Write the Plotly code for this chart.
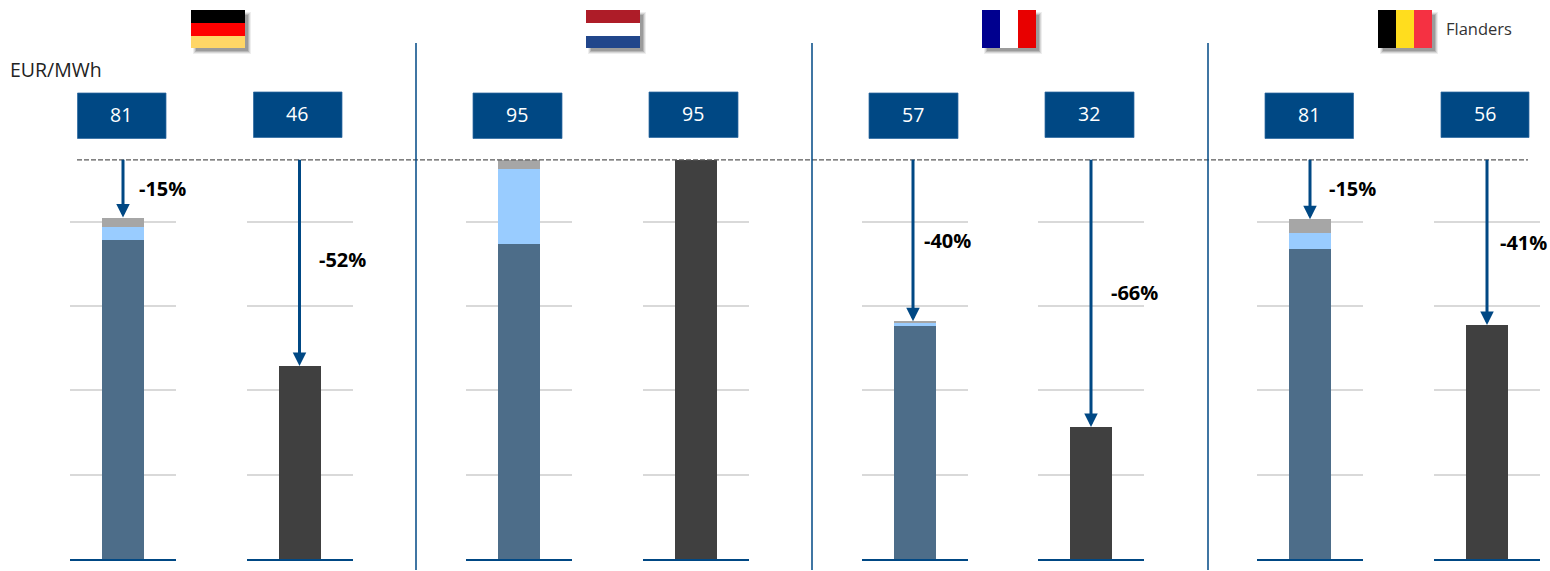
import plotly.graph_objects as go

W, H = 1550, 571

# ---- data ----
countries = ["Germany", "Netherlands", "France", "Flanders"]
box_labels = ["81", "46", "95", "95", "57", "32", "81", "56"]
pct_labels = ["-15%", "-52%", None, None, "-40%", "-66%", "-15%", "-41%"]
reference = [94.7] * 8
base_seg = [75.8, 0, 74.7, 0, 55.3, 0, 73.5, 0]
light_seg = [3.0, 0, 17.9, 0, 0.6, 0, 3.8, 0]
gray_seg = [2.2, 0, 2.1, 0, 0.5, 0, 3.3, 0]
dark_seg = [0, 45.8, 0, 94.7, 0, 31.3, 0, 55.5]
arrow_tips = [81.0, 45.8, None, None, 56.4, 31.3, 80.6, 55.5]

# ---- layout constants (pixels) ----
NAVY = "#004884"
panel_x = [(70, 176), (247, 353), (466, 572), (643, 749), (862, 968), (1038, 1144), (1257, 1363), (1434, 1540)]
box_x = [(77.5, 166), (253.5, 342), (473, 562), (649, 738), (869, 958), (1045, 1134), (1265, 1353.5), (1441, 1529)]
box_y = [(93, 138.5), (92, 137.5), (93, 138.5), (92, 137.5), (93, 138.5), (92, 137.5), (93, 138.5), (92, 137.5)]
arrow_px = [123, 299.5, None, None, 913, 1091, 1310, 1487]
pct_xy = [(162, 189), (342, 260), None, None, (948, 240), (1134, 292), (1352, 189), (1523, 242)]
Y_TOP, Y_BASE = 137.5, 559


def px(x):
    return x / W


def py(y):
    return 1 - y / H


fig = go.Figure()
shapes, annotations = [], []
layout = {}
for i in range(8):
    s = "" if i == 0 else str(i + 1)
    layout[f"xaxis{s}"] = dict(
        domain=[px(panel_x[i][0]), px(panel_x[i][1])], range=[-0.5, 0.5], anchor=f"y{s}",
        showticklabels=False, ticks="", showgrid=False, zeroline=False,
        showline=True, linecolor=NAVY, linewidth=1.6,
    )
    layout[f"yaxis{s}"] = dict(
        domain=[py(Y_BASE), py(Y_TOP)], range=[0, 100], dtick=20, anchor=f"x{s}",
        showticklabels=False, ticks="", showgrid=True, gridcolor="#D9D9D9", gridwidth=1.5,
        zeroline=False, showline=False,
    )
    for vals, col in [(base_seg, "#4D6D89"), (light_seg, "#99CCFF"), (gray_seg, "#A6A6A6"), (dark_seg, "#404040")]:
        if vals[i] > 0:
            fig.add_trace(go.Bar(x=[0], y=[vals[i]], xaxis=f"x{s}", yaxis=f"y{s}",
                                 marker=dict(color=col, line=dict(width=0)), showlegend=False))
    # value box
    shapes.append(dict(type="rect", xref="paper", yref="paper",
                       x0=px(box_x[i][0]), x1=px(box_x[i][1]), y0=py(box_y[i][1]), y1=py(box_y[i][0]),
                       fillcolor=NAVY, line=dict(color="#2E6AA0", width=0.75)))
    annotations.append(dict(xref="paper", yref="paper", x=px(sum(box_x[i]) / 2 - 0.5), y=py(sum(box_y[i]) / 2 - 1),
                            text=box_labels[i], showarrow=False, xanchor="center", yanchor="middle",
                            font=dict(family="Open Sans", size=19.5, color="white")))
    # reduction arrow + label
    if arrow_tips[i] is not None:
        xval = (arrow_px[i] - sum(panel_x[i]) / 2) / (panel_x[i][1] - panel_x[i][0])
        annotations.append(dict(xref=f"x{s}", yref=f"y{s}", axref=f"x{s}", ayref=f"y{s}",
                                x=xval, y=arrow_tips[i], ax=xval, ay=reference[i], text=" ",
                                font=dict(size=1), borderpad=0, borderwidth=0,
                                showarrow=True, arrowhead=2, arrowsize=0.9, arrowwidth=3,
                                arrowcolor=NAVY, standoff=0, startstandoff=0))
        annotations.append(dict(xref="paper", yref="paper", x=px(pct_xy[i][0]), y=py(pct_xy[i][1]),
                                text=f"<b>{pct_labels[i]}</b>", showarrow=False,
                                xanchor="center", yanchor="middle",
                                font=dict(family="Open Sans", size=20, color="black")))

# reference line
shapes.append(dict(type="line", xref="paper", yref="y", x0=px(77), x1=px(1528), y0=reference[0], y1=reference[0],
                   line=dict(color="#595959", width=1.3, dash="5px,2px")))
# separators
for x in (416, 812, 1208):
    shapes.append(dict(type="line", xref="paper", yref="paper", x0=px(x), x1=px(x), y0=py(570), y1=py(43),
                       line=dict(color=NAVY, width=1.5)))


# flags
def rect(x0, x1, y0, y1, color):
    shapes.append(dict(type="rect", xref="paper", yref="paper", x0=px(x0), x1=px(x1), y0=py(y1), y1=py(y0),
                       fillcolor=color, line=dict(width=0)))


for fx in (191, 586, 982, 1378):
    # soft drop shadow
    for grow, alpha in [(2, 0.10), (1, 0.15), (0, 0.25), (-1, 0.3)]:
        rect(fx + 4 - grow, fx + 58 + grow, 14 - grow, 52 + grow, f"rgba(90,90,90,{alpha})")
FL_T, FL_B = 10, 48
for c, (a, b) in zip(["#000000", "#FF0000", "#FFD666"], [(10, 23), (23, 36), (36, 48)]):
    rect(191, 245, a, b, c)
for c, (a, b) in zip(["#AE1C28", "#FFFFFF", "#21468B"], [(10, 23), (23, 36), (36, 48)]):
    rect(586, 640, a, b, c)
for c, (a, b) in zip(["#00008F", "#FFFFFF", "#E80000"], [(982, 1000), (1000, 1018), (1018, 1036)]):
    rect(a, b, FL_T, FL_B, c)
for c, (a, b) in zip(["#000000", "#FFDD1E", "#F53142"], [(1378, 1396), (1396, 1414), (1414, 1432)]):
    rect(a, b, FL_T, FL_B, c)

annotations.append(dict(xref="paper", yref="paper", x=px(8), y=py(70), text="EUR/MWh", showarrow=False,
                        xanchor="left", yanchor="middle", font=dict(family="Open Sans", size=19.5, color="#222222")))
annotations.append(dict(xref="paper", yref="paper", x=px(1444), y=py(29), text=countries[3], showarrow=False,
                        xanchor="left", yanchor="middle", font=dict(family="Open Sans", size=16.5, color="#333333")))

fig.update_layout(width=W, height=H, margin=dict(l=0, r=0, t=0, b=0), barmode="stack", bargap=0.604,
                  plot_bgcolor="white", paper_bgcolor="white", showlegend=False,
                  shapes=shapes, annotations=annotations, **layout)
fig.write_html("out.html", post_script="document.body.style.margin='0';", config=dict(displayModeBar=False))
